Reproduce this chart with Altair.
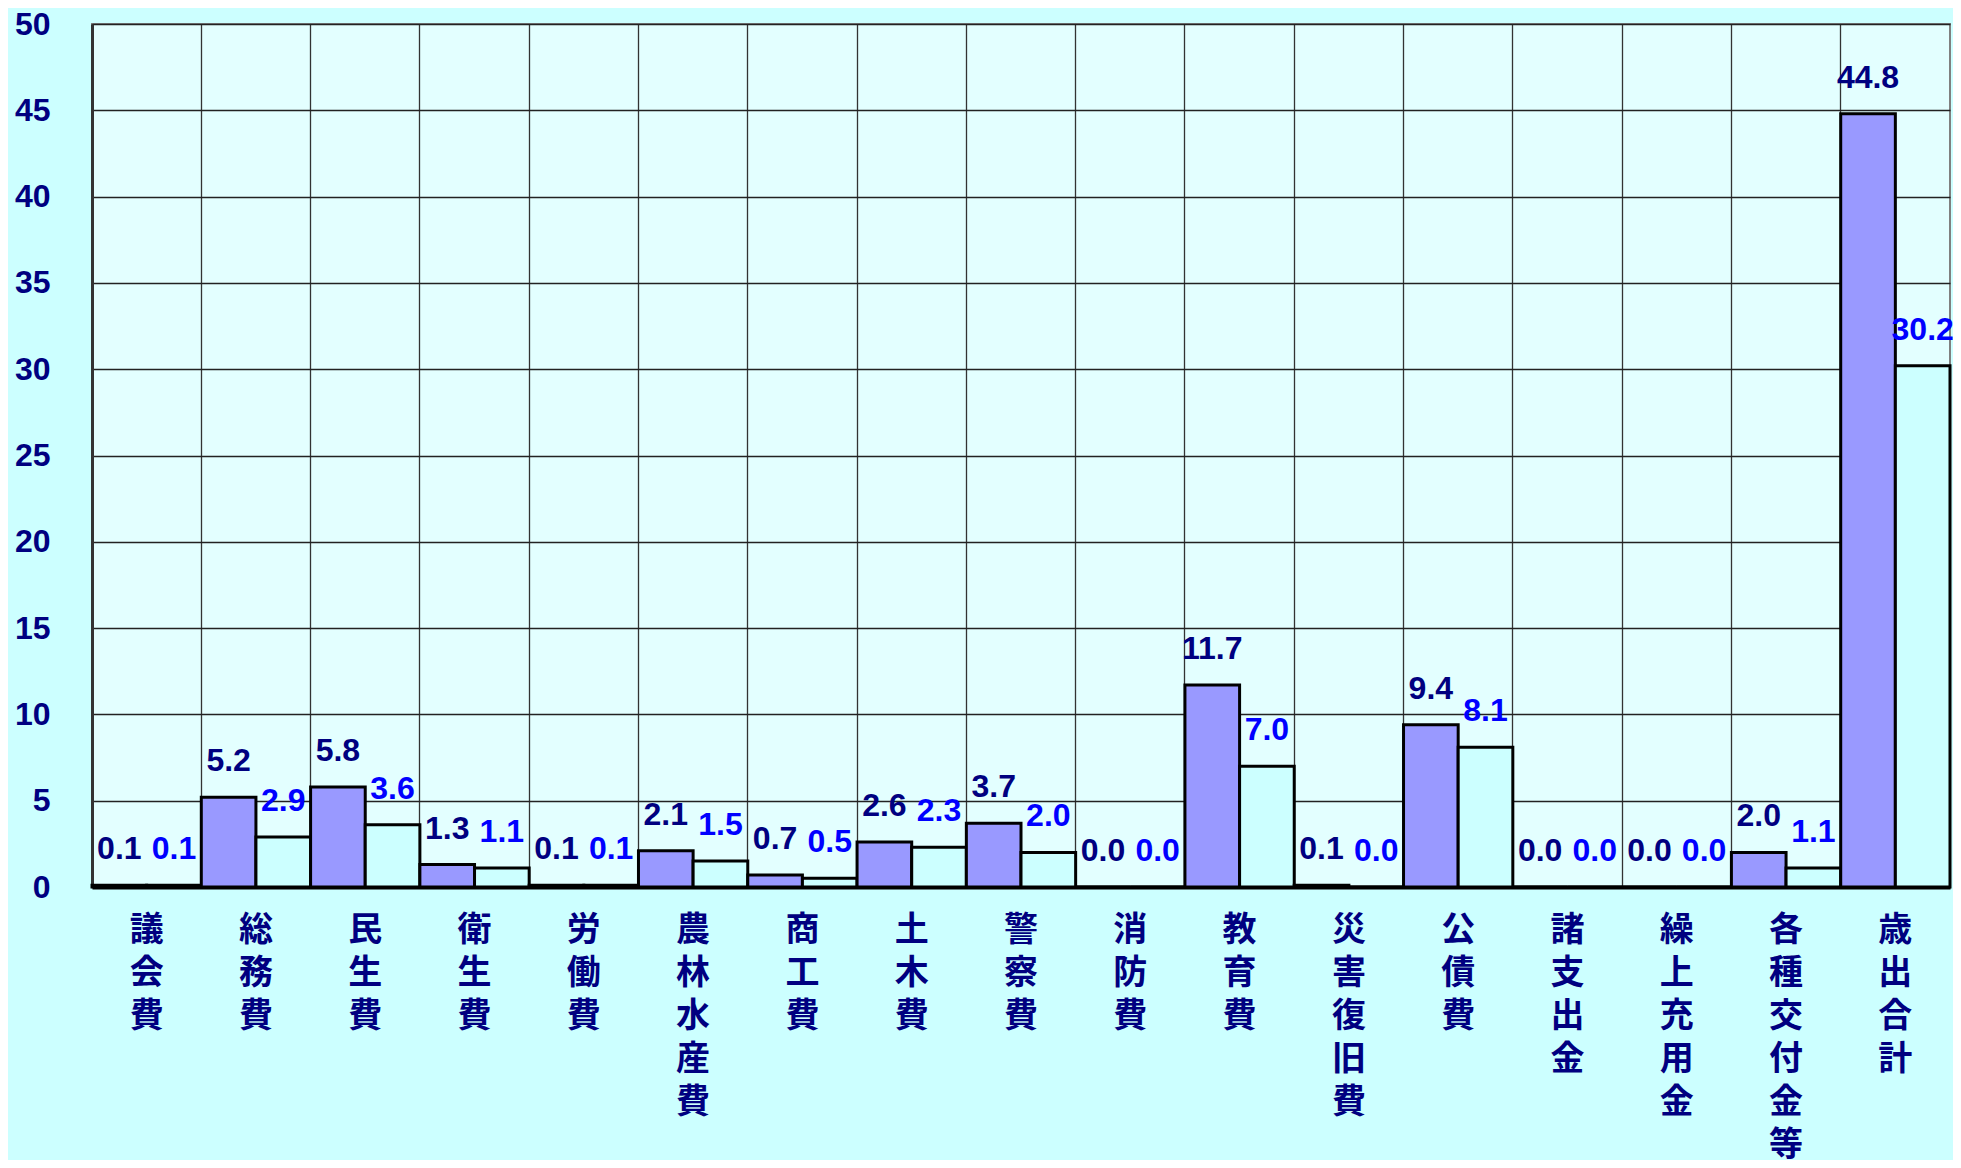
import altair as alt
import pandas as pd

categories = ["議会費", "総務費", "民生費", "衛生費", "労働費", "農林水産費", "商工費",
              "土木費", "警察費", "消防費", "教育費", "災害復旧費", "公債費", "諸支出金",
              "繰上充用金", "各種交付金等", "歳出合計"]
series_names = ["系列1", "系列2"]
values_1 = [0.1, 5.2, 5.8, 1.3, 0.1, 2.1, 0.7, 2.6, 3.7, 0.0, 11.7, 0.1, 9.4, 0.0, 0.0, 2.0, 44.8]
values_2 = [0.1, 2.9, 3.6, 1.1, 0.1, 1.5, 0.5, 2.3, 2.0, 0.0, 7.0, 0.0, 8.1, 0.0, 0.0, 1.1, 30.2]
y_ticks = [0, 5, 10, 15, 20, 25, 30, 35, 40, 45, 50]

rows = []
for c, a, b in zip(categories, values_1, values_2):
    rows.append({"cat": c, "series": series_names[0], "value": a})
    rows.append({"cat": c, "series": series_names[1], "value": b})
df = pd.DataFrame(rows)

W, H = 1858, 863

x_enc = alt.X("cat:N", sort=categories, title=None,
              scale=alt.Scale(paddingInner=0, paddingOuter=0),
              axis=alt.Axis(labelExpr="split(datum.label, '')", labelAngle=0,
                            labelFont="Noto Sans CJK JP", labelFontWeight="bold",
                            labelFontSize=34, labelColor="#000080",
                            labelLineHeight=43, labelBaseline="top",
                            labelPadding=26,
                            bandPosition=0, ticks=False, grid=True,
                            gridColor="#333333", gridWidth=1.3,
                            domainColor="#000000", domainWidth=4,
                            labelLimit=0))
xoff = alt.XOffset("series:N", sort=series_names,
                   scale=alt.Scale(domain=series_names, paddingInner=0, paddingOuter=0))
y_enc = alt.Y("value:Q", title=None,
              scale=alt.Scale(domain=[0, 50], nice=False),
              axis=alt.Axis(values=y_ticks, grid=True, gridColor="#222222", gridWidth=1.3,
                            ticks=False, domainColor="#333333", domainWidth=3,
                            labelFont="Liberation Sans", labelFontWeight="bold",
                            labelFontSize=32, labelColor="#000080", labelPadding=42,
                            labelBaseline="middle"))

bars = alt.Chart(df).mark_bar(stroke="black", strokeWidth=3).encode(
    x=x_enc, xOffset=xoff, y=y_enc,
    color=alt.Color("series:N", scale=alt.Scale(domain=series_names,
                                                range=["#9999FF", "#CCFFFF"]), legend=None),
)

labels = alt.Chart(df).mark_text(baseline="alphabetic", dy=-26, font="Liberation Sans",
                                 fontWeight="bold", fontSize=32, clip=False).encode(
    x=alt.X("cat:N", sort=categories), xOffset=xoff, y=alt.Y("value:Q"),
    text=alt.Text("value:Q", format=".1f"),
    color=alt.Color("series:N", scale=alt.Scale(domain=series_names,
                                                range=["#000080", "#0000FF"]), legend=None),
)

chart = alt.layer(bars, labels).resolve_scale(color="independent").properties(
    width=W, height=H,
    padding={"left": 84, "top": 16, "right": 3, "bottom": 273},
    autosize=alt.AutoSizeParams(type="none"),
    background="#CCFFFF",
).configure_view(fill="#E3FFFF", stroke="#808080", strokeWidth=2)

chart.save("out.html", embed_options={"renderer": "svg", "actions": False})
